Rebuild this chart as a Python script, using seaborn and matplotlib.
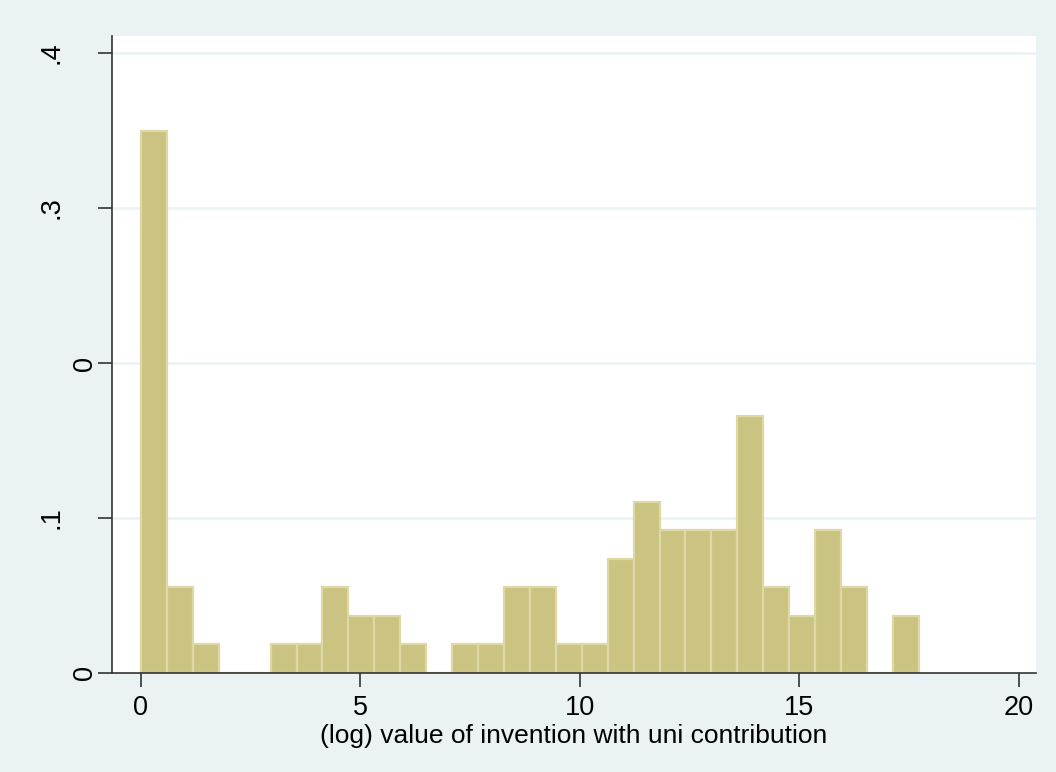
import numpy as np
import pandas as pd
import matplotlib
matplotlib.use("Agg")
import matplotlib.pyplot as plt
import matplotlib.transforms as mtransforms
import seaborn as sns

# Histogram: 30 equal bins from 0 to ~17.72, counts per bin (N = 92)
hist_min = 0.0
hist_max = 17.72
bin_counts = [19, 3, 1, 0, 0, 1, 1, 3, 2, 2,
              1, 0, 1, 1, 3, 3, 1, 1, 4, 6,
              5, 5, 5, 9, 3, 2, 5, 3, 0, 2]
x_ticks = [0, 5, 10, 15, 20]
y_ticks = [0, 0.1, 0.2, 0.3, 0.4]
y_tick_labels = ["0", ".1", "0", ".3", ".4"]
x_label = "(log) value of invention with uni contribution"

edges = np.linspace(hist_min, hist_max, len(bin_counts) + 1)
centers = (edges[:-1] + edges[1:]) / 2
df = pd.DataFrame({"value": centers, "count": bin_counts})

sns.set_theme(style="white")
plt.rcParams['font.family'] = ['Liberation Sans', 'DejaVu Sans']

bg = "#EAF2F3"
fig = plt.figure(figsize=(10.56, 7.72), dpi=100, facecolor=bg)
ax = fig.add_axes([112 / 1056, 1 - 673 / 772, (1036 - 112) / 1056, (673 - 36) / 772])
ax.set_facecolor("white")

sns.histplot(data=df, x="value", weights="count", bins=edges.tolist(), stat="density",
             color="#CBC382", edgecolor="#DDD8A4", linewidth=1.6, alpha=1, ax=ax)

ax.set_xlim(-0.66, 20.39)
ax.set_ylim(0, 0.411)

ax.set_xticks(x_ticks)
ax.set_xticklabels([str(t) for t in x_ticks])
ax.set_yticks(y_ticks)
ax.set_yticklabels(y_tick_labels, rotation=90, va="center")

# horizontal grid lines, Stata-like
for y in y_ticks[1:]:
    ax.axhline(y, color=bg, linewidth=1.8, zorder=0)

for side in ["top", "right"]:
    ax.spines[side].set_visible(False)
for side in ["left", "bottom"]:
    ax.spines[side].set_color("#333333")
    ax.spines[side].set_linewidth(1.2)

ax.tick_params(axis="both", direction="out", length=10, width=1.2, color="#333333",
               labelsize=19.5, labelcolor="black")
ax.tick_params(axis="y", pad=0, left=True)
ax.tick_params(axis="x", pad=6, bottom=True)

# the ".x" labels sit further left than the "0" ones
for lab in ax.get_yticklabels():
    if lab.get_text().startswith("."):
        lab.set_transform(lab.get_transform() +
                          mtransforms.ScaledTranslation(-24 / 72, 0, fig.dpi_scale_trans))

ax.set_xlabel(x_label, fontsize=19, labelpad=2, color="black")
ax.set_ylabel("")

fig.savefig("out.png", dpi=100, facecolor=bg)
plt.close(fig)
